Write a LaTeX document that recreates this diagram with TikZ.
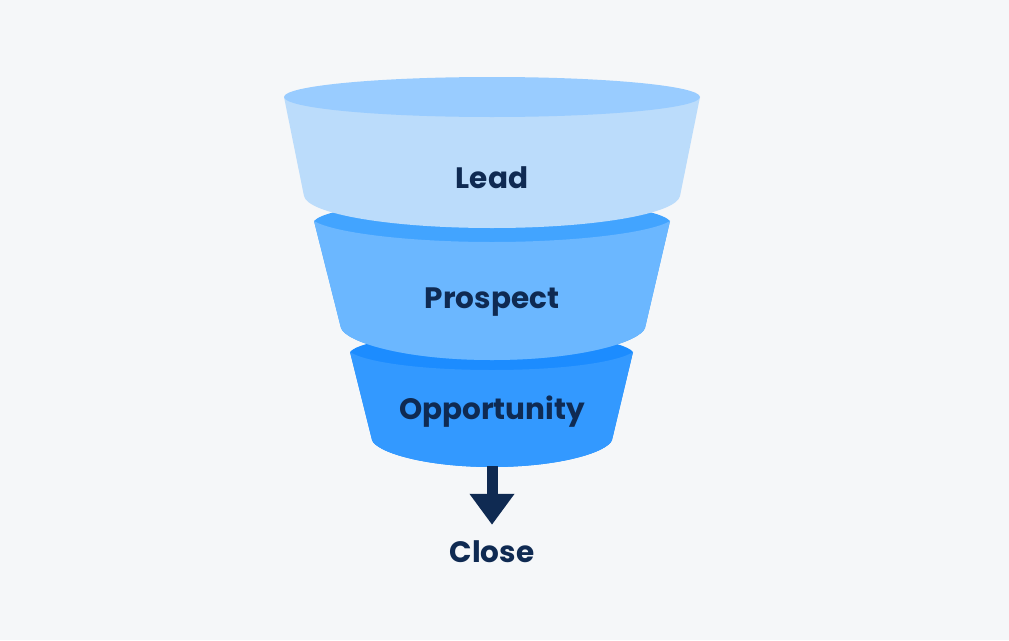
\documentclass[tikz,border=0pt]{standalone}
\usepackage{fontspec}
\setmainfont{Poppins}
\usetikzlibrary{arrows.meta}
\definecolor{bg}{HTML}{F5F7F9}
\definecolor{navy}{HTML}{0F2A52}
\definecolor{leadtop}{HTML}{99CCFF}
\definecolor{leadbody}{HTML}{BBDCFB}
\definecolor{prosband}{HTML}{42A4FF}
\definecolor{prosbody}{HTML}{6BB7FF}
\definecolor{oppband}{HTML}{1C8CFF}
\definecolor{oppbody}{HTML}{3399FF}
\tikzset{
  lbl/.style={font=\bfseries\fontsize{29.5}{32}\selectfont, text=navy, inner sep=0pt},
  flow/.style={draw=navy, line width=11pt, -{Triangle[width=43pt,length=31pt]}}
}
\begin{document}
\begin{tikzpicture}[x=1pt,y=-1pt]
\fill[bg] (0,0) rectangle (1009,640);
\useasboundingbox (0,0) rectangle (1009,640);
% Opportunity
\fill[oppband] (350,352) .. controls (360,340) and (420,334) .. (492,334) .. controls (564,334) and (623,340) .. (633,352)
  -- (612,440) .. controls (608,452) and (560,467) .. (492,467) .. controls (424,467) and (376,452) .. (372,440) -- cycle;
\fill[oppbody] (350,352) .. controls (365,362) and (420,370) .. (492,370) .. controls (564,370) and (618,362) .. (633,352)
  -- (612,440) .. controls (608,452) and (560,467) .. (492,467) .. controls (424,467) and (376,452) .. (372,440) -- cycle;
% Prospect
\fill[prosband] (314,221) .. controls (326,208) and (400,200) .. (492,200) .. controls (584,200) and (658,208) .. (670,221)
  -- (645,328) .. controls (640,342) and (580,360) .. (492,360) .. controls (404,360) and (346,342) .. (341,328) -- cycle;
\fill[prosbody] (314,221) .. controls (334,233) and (410,242) .. (492,242) .. controls (574,242) and (650,233) .. (670,221)
  -- (645,328) .. controls (640,342) and (580,360) .. (492,360) .. controls (404,360) and (346,342) .. (341,328) -- cycle;
% Lead
\fill[leadbody] (284,97) -- (304,196) .. controls (308,214) and (390,228) .. (492,228) .. controls (594,228) and (676,214) .. (680,196) -- (700,97) -- cycle;
\fill[leadtop] (492,97) ellipse [x radius=208, y radius=20];
% labels
\node[lbl] (lead) at (492,178) {Lead};
\node[lbl] (prospect) at (492,302) {Prospect};
\node[lbl] (opp) at (492,412) {Opportunity};
\coordinate (fbottom) at (492,466);
\node[lbl] (close) at (492,552) {Close};
\draw[flow] (fbottom) -- ([yshift=16pt]close.north);
\end{tikzpicture}
\end{document}
